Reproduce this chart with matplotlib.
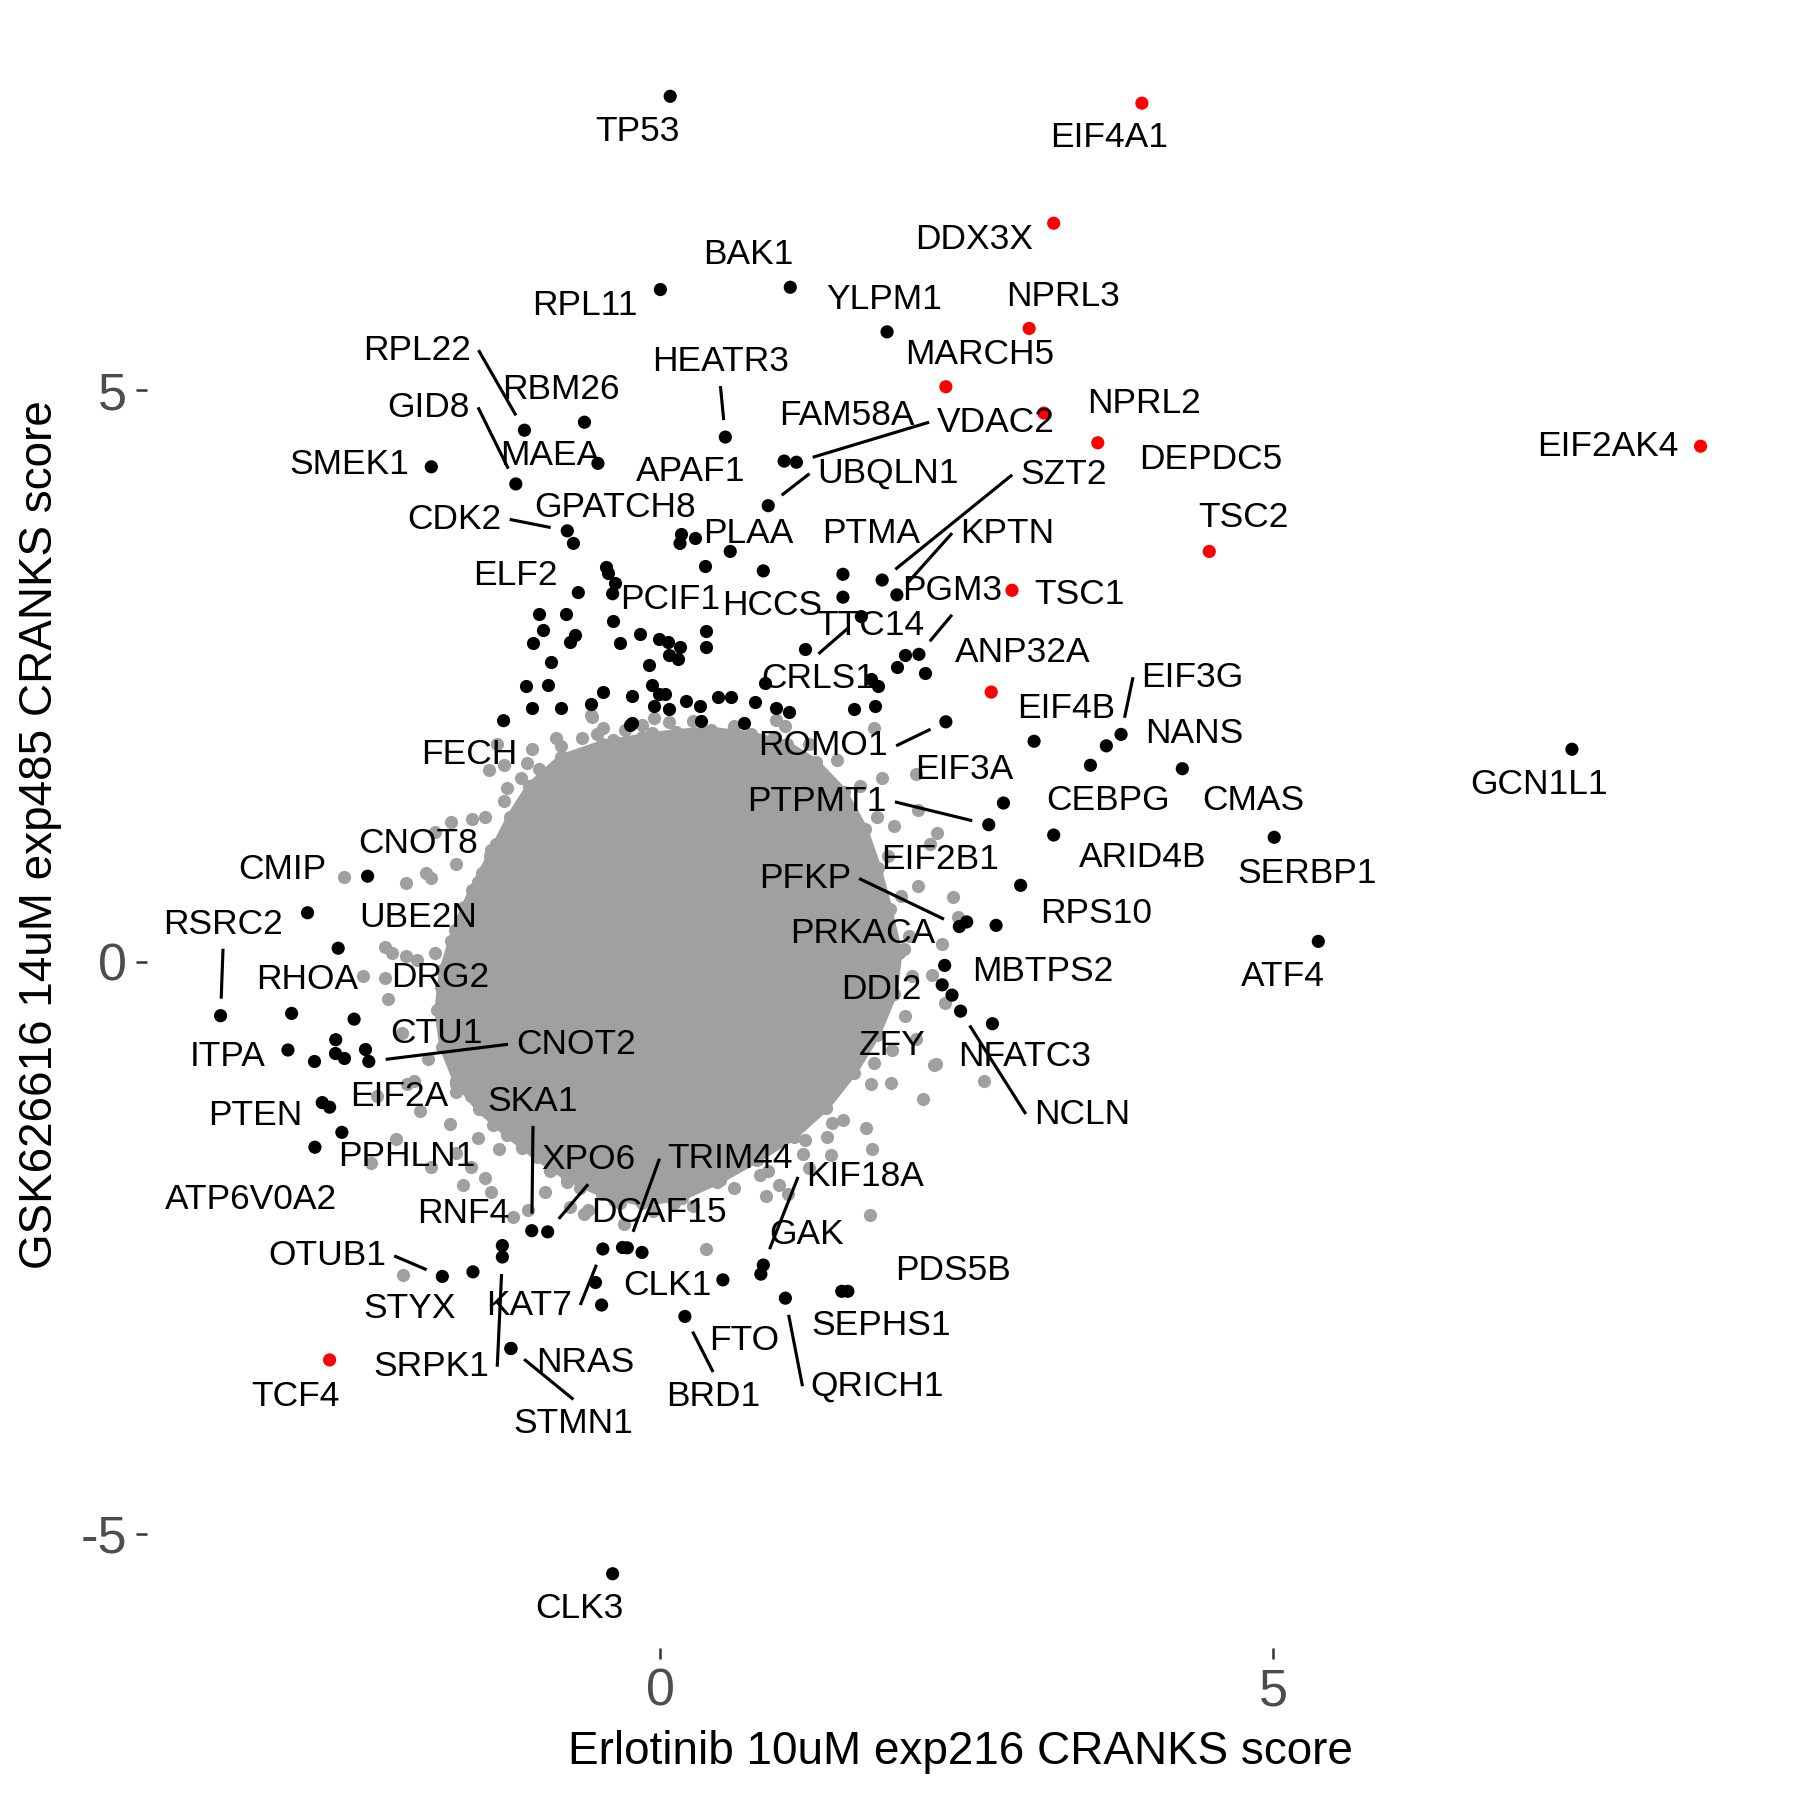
import numpy as np
import matplotlib
matplotlib.use("Agg")
import matplotlib.pyplot as plt

plt.rcParams['font.family'] = ['Liberation Sans', 'DejaVu Sans']
plt.rcParams['axes.unicode_minus'] = False

GRAY = "#A0A0A0"

# labelled genes: point position, red flag, label position, segment flag
genes = ["TP53", "EIF4A1", "BAK1", "DDX3X", "RPL11", "YLPM1", "NPRL3", "HEATR3", "MARCH5",
         "RPL22", "RBM26", "GID8", "SMEK1", "MAEA", "NPRL2", "DEPDC5", "EIF2AK4", "FAM58A",
         "VDAC2", "APAF1", "UBQLN1", "SZT2", "TSC2", "GPATCH8", "CDK2", "PLAA", "PTMA",
         "KPTN", "PGM3", "TSC1", "ELF2", "PCIF1", "HCCS", "TTC14", "CRLS1", "ANP32A",
         "EIF3G", "EIF4B", "NANS", "ROMO1", "FECH", "EIF3A", "CEBPG", "CMAS", "GCN1L1",
         "PTPMT1", "ARID4B", "SERBP1", "CNOT8", "CMIP", "EIF2B1", "PFKP", "RPS10", "PRKACA",
         "UBE2N", "RSRC2", "MBTPS2", "ATF4", "DDI2", "ZFY", "NCLN", "NFATC3", "RHOA", "DRG2",
         "ITPA", "CTU1", "CNOT2", "EIF2A", "PTEN", "SKA1", "PPHLN1", "ATP6V0A2", "XPO6",
         "TRIM44", "DCAF15", "KIF18A", "GAK", "RNF4", "SRPK1", "OTUB1", "STYX", "KAT7",
         "CLK1", "PDS5B", "SEPHS1", "QRICH1", "FTO", "BRD1", "NRAS", "STMN1", "TCF4", "CLK3"]
gene_x = [0.08, 3.93, 1.06, 3.21, 0.00, 1.85, 3.01, 0.53, 2.33,
          -1.11, -0.62, -1.18, -1.87, -0.51, 3.13, 3.57, 8.49, 1.01,
          1.11, 0.16, 0.88, 1.81, 4.48, -0.71, -0.76, 0.57, 1.49,
          1.93, 2.11, 2.87, -0.67, -0.39, 0.84, 1.49, 1.64, 2.70,
          3.76, 3.05, 3.64, 2.33, -1.28, 2.80, 3.51, 4.26, 7.44,
          2.68, 3.21, 5.01, -2.39, -2.88, 2.94, 2.44, 2.74, 2.50,
          -2.63, -3.59, 2.32, 5.37, 2.30, 2.38, 2.45, 2.71, -3.01, -2.50,
          -3.04, -2.65, -2.38, -2.70, -2.76, -1.05, -2.60, -2.82, -0.92,
          -0.27, -0.15, 0.84, 0.82, -1.29, -1.29, -1.78, -1.53, -0.47,
          0.51, 1.53, 1.48, 1.02, -0.48, 0.20, -1.22, -1.22, -2.70, -0.39]
gene_y = [7.57, 7.51, 5.90, 6.46, 5.88, 5.51, 5.54, 4.59, 5.03,
          4.65, 4.72, 4.18, 4.33, 4.36, 4.80, 4.54, 4.51, 4.38,
          4.37, 3.66, 3.99, 3.34, 3.59, 3.66, 3.77, 3.59, 3.39,
          3.21, 2.69, 3.25, 3.23, 3.22, 3.42, 3.19, 3.02, 2.36,
          1.99, 1.93, 1.89, 2.10, 2.11, 1.39, 1.72, 1.69, 1.86,
          1.20, 1.11, 1.09, 0.75, 0.43, 0.67, 0.31, 0.32, 0.35,
          0.12, -0.47, -0.03, 0.18, -0.20, -0.29, -0.43, -0.54, -0.45, -0.50,
          -0.77, -0.68, -0.87, -1.27, -1.23, -2.35, -1.49, -1.62, -2.36,
          -2.50, -2.54, -2.65, -2.73, -2.48, -2.58, -2.75, -2.71, -2.51,
          -2.78, -2.88, -2.88, -2.94, -3.00, -3.10, -3.38, -3.38, -3.48, -5.35]
gene_red = {"EIF4A1", "DDX3X", "NPRL3", "MARCH5", "NPRL2", "DEPDC5", "EIF2AK4",
            "TSC2", "TSC1", "ANP32A", "TCF4"}
label_x = [-0.19, 3.66, 0.72, 2.56, -0.62, 1.83, 3.29, 0.49, 2.61,
           -1.99, -0.81, -1.89, -2.54, -0.90, 3.95, 4.49, 7.73, 1.52,
           2.74, 0.25, 1.86, 3.29, 4.76, -0.37, -1.68, 0.72, 1.72,
           2.83, 2.38, 3.42, -1.18, 0.08, 0.91, 1.71, 1.29, 2.96,
           4.34, 3.31, 4.36, 1.33, -1.56, 2.48, 3.65, 4.84, 7.17,
           1.28, 3.94, 5.28, -1.98, -3.09, 2.28, 1.18, 3.56, 1.65,
           -1.98, -3.57, 3.12, 5.08, 1.80, 1.89, 3.44, 2.97, -2.88, -1.80,
           -3.53, -1.83, -0.69, -2.13, -3.31, -1.04, -2.07, -3.34, -0.59,
           0.57, -0.01, 1.67, 1.19, -1.61, -1.87, -2.72, -2.05, -1.07,
           0.06, 2.39, 1.80, 1.77, 0.68, 0.43, -0.61, -0.71, -2.98, -0.66]
label_y = [7.26, 7.21, 6.19, 6.32, 5.74, 5.79, 5.82, 5.25, 5.31,
           5.35, 5.01, 4.85, 4.35, 4.43, 4.88, 4.39, 4.51, 4.78,
           4.72, 4.29, 4.27, 4.26, 3.89, 3.97, 3.87, 3.75, 3.75,
           3.75, 3.25, 3.21, 3.38, 3.17, 3.12, 2.94, 2.48, 2.71,
           2.49, 2.22, 2.00, 1.89, 1.81, 1.68, 1.41, 1.41, 1.55,
           1.40, 0.91, 0.77, 1.04, 0.81, 0.90, 0.73, 0.42, 0.25,
           0.39, 0.33, -0.08, -0.13, -0.24, -0.73, -1.33, -0.83, -0.15, -0.14,
           -0.83, -0.63, -0.72, -1.18, -1.34, -1.22, -1.70, -2.08, -1.73,
           -1.72, -2.19, -1.88, -2.38, -2.20, -3.54, -2.57, -3.03, -3.00,
           -2.83, -2.70, -3.18, -3.71, -3.31, -3.80, -3.50, -4.04, -3.80, -5.65]
with_segment = {"HEATR3", "RPL22", "GID8", "VDAC2", "UBQLN1", "SZT2", "CDK2", "KPTN",
                "PGM3", "CRLS1", "EIF3G", "ROMO1", "PTPMT1", "PFKP", "RSRC2", "NCLN",
                "CNOT2", "SKA1", "XPO6", "TRIM44", "KIF18A", "SRPK1", "OTUB1", "KAT7",
                "QRICH1", "BRD1", "STMN1"}

# other hits (black, unlabelled)
hit_x = [-0.44, -0.43, 0.36, -0.37, -0.99, -0.77, -0.39, -0.96, -1.04, -0.70, -0.74, -0.33,
         -0.17, -0.01, 0.06, 0.16, 0.07, 0.14, 0.37, 0.37, -0.89, -0.09, -1.10, -0.92,
         -0.47, -0.07, -0.01, 0.04, -0.23, -0.57, -1.05, -0.81, -0.05, 0.07, 0.21, 0.32,
         0.33, 0.47, -0.23, -0.25, 1.18, 2.00, 1.93, 2.16, 0.85, 1.72, 1.78, 0.58, 0.77,
         0.94, 1.05, 1.58, 1.75, 0.68, 0.17, 0.28, -2.66, -2.58, -2.41, -2.83, -0.31, -0.53]
hit_y = [3.45, 3.40, 3.46, 3.31, 3.04, 3.04, 2.98, 2.90, 2.79, 2.86, 2.80, 2.79,
         2.87, 2.82, 2.80, 2.75, 2.68, 2.65, 2.89, 2.75, 2.62, 2.60, 2.41, 2.42,
         2.36, 2.42, 2.34, 2.34, 2.33, 2.26, 2.22, 2.22, 2.24, 2.21, 2.28, 2.24,
         2.11, 2.32, 2.09, 2.07, 2.74, 2.68, 2.58, 2.53, 2.44, 2.47, 2.41, 2.32, 2.27,
         2.22, 2.19, 2.21, 2.24, 2.09, 3.74, 3.71, -0.80, -0.84, -0.76, -0.87, -2.49, -2.80]

# background genes: outline of the dense core and the scattered ones around it
core_x = [-0.15, -0.48, -0.81, -1.07, -1.23, -1.39, -1.54, -1.68, -1.78, -1.82, -1.78, -1.67,
          -1.48, -1.25, -1.01, -0.76, -0.48, -0.15, 0.18, 0.49, 0.79, 1.09, 1.35, 1.58,
          1.77, 1.91, 1.95, 1.87, 1.78, 1.67, 1.50, 1.27, 1.03, 0.74, 0.41, 0.13]
core_y = [1.97, 1.91, 1.79, 1.54, 1.27, 0.93, 0.63, 0.28, -0.07, -0.42, -0.74, -1.04,
          -1.29, -1.51, -1.71, -1.89, -2.03, -2.11, -2.06, -1.91, -1.73, -1.53, -1.28, -0.97,
          -0.64, -0.28, 0.08, 0.46, 0.82, 1.16, 1.49, 1.75, 1.91, 1.99, 2.03, 2.01]
edge_x = [-1.13, -1.34, -1.46, -1.60, -1.71, -1.79, -1.76, -1.69, -1.55, -1.37, -1.13, -0.90,
          -0.66, -0.38, -0.06, 0.27, 0.60, 0.88, 1.16, 1.49, 1.72, 1.89, 2.00, 2.05,
          2.03, 1.96, 1.86, 1.77, 1.63, 1.44, 1.21, 0.93, 0.60, 0.27, -0.15, -0.52,
          -0.81, -0.99]
edge_y = [1.39, 1.03, 0.78, 0.48, 0.18, -0.22, -0.57, -0.87, -1.17, -1.43, -1.63, -1.83,
          -1.98, -2.08, -2.18, -2.13, -1.98, -1.83, -1.68, -1.38, -1.07, -0.77, -0.47, -0.12,
          0.23, 0.58, 0.93, 1.27, 1.54, 1.77, 1.91, 1.97, 2.06, 2.11, 2.07, 1.99,
          1.89, 1.69]
bg_x = [-2.58, -2.08, -1.91, -1.87, -1.67, -1.84, -1.71, -1.54, -1.43, -2.25, -2.19, -2.43,
        -2.25, -2.22, -2.08, -1.99, -1.84, -1.49, -1.38, -1.28, -1.25, -1.09, -1.05, -1.28,
        -0.85, -0.64, -0.56, -0.47, -1.40, -1.14, -1.78, -1.90, -1.67, -2.01, -2.11, -1.33,
        -0.39, -0.29, -0.05, 0.07, -0.07, 0.33, 0.10, -0.57, 0.94, 1.02, 0.59, -2.10,
        1.74, 2.09, 1.81, 2.10, 1.91, 2.26, 2.20, 2.10, 2.39, 2.43, 2.30, 1.99, 2.22,
        2.32, 1.79, 2.09, 2.25, 1.88, 2.14, 2.64, 1.74,
        0.37, 1.71, 1.68, 1.36, 1.73, 1.39, 2.23, 0.86, 0.97, 1.21,
        -2.31, -2.07, -1.96, -2.16, -1.87, -1.67, -1.55, -1.61, -1.43, -1.38, -1.20, -1.08,
        -0.94, -0.76, -0.59, -0.33, -1.49, -1.72, -1.32, -1.67, -2.36, -0.74, -0.62, -0.30,
        0.11, 0.46, 0.81, 1.04, 1.18, 1.40]
bg_y = [0.74, 0.69, 0.78, 0.73, 0.86, 1.14, 1.22, 1.25, 1.27, 0.13, 0.08, -0.12,
        -0.14, -0.32, 0.05, 0.02, 0.08, 0.70, 0.98, 1.41, 1.52, 1.74, 1.86, 1.72,
        1.96, 1.96, 2.14, 2.05, 1.68, 1.61, -0.29, -0.85, -1.07, -1.04, -0.62, 1.91,
        1.94, 2.03, 2.13, 2.10, 2.00, 2.00, 1.94, 2.16, 2.12, 2.06, 2.00, -2.74,
        2.05, 1.64, 1.61, 1.33, 1.19, 1.13, 1.03, 0.66, 0.57, 0.39, 0.16, 0.11, -0.11,
        -0.36, -0.48, -0.67, -0.89, -1.06, -1.20, -1.04, -0.88,
        -2.51, -2.21, -1.45, -1.53, -1.64, -1.69, -0.90, -2.05, -1.95, -1.80,
        -1.17, -1.07, -1.30, -1.55, -1.79, -1.67, -1.79, -1.95, -1.89, -2.01, -2.23, -2.17,
        -2.01, -1.92, -2.17, -2.11, -1.54, -1.42, -1.64, -1.14, -1.76, -2.14, -2.20, -2.29,
        -2.11, -1.92, -1.86, -2.03, -1.56, -1.41]

fig = plt.figure(figsize=(6, 6), dpi=300)
ax = fig.add_axes([0.0817, 0.0844, 0.9039, 0.9034])
ax.set_xlim(-4.19, 9.09)
ax.set_ylim(-6.0, 8.22)
ax.set_autoscale_on(False)

PT = 10
ax.fill(core_x, core_y, color=GRAY, ec=GRAY, lw=1.5, zorder=1)
ax.scatter(core_x, core_y, s=PT, color=GRAY, lw=0, zorder=1)
ax.scatter(edge_x, edge_y, s=PT, color=GRAY, lw=0, zorder=1)
ax.scatter(bg_x, bg_y, s=PT, color=GRAY, lw=0, zorder=1)
ax.scatter(hit_x, hit_y, s=PT, color="black", lw=0, zorder=3)
cols = ["red" if g in gene_red else "black" for g in genes]
ax.scatter(gene_x, gene_y, s=PT, c=cols, lw=0, zorder=3)

texts = []
for g, tx, ty in zip(genes, label_x, label_y):
    texts.append(ax.text(tx, ty, g, fontsize=8.5, ha="center", va="center",
                         color="black", zorder=4))

# ggrepel-like segments: point -> middle of the nearest label side
fig.canvas.draw()
renderer = fig.canvas.get_renderer()
inv = ax.transData.inverted()
PAD = 8
GAP = 17
for g, px, py, txt in zip(genes, gene_x, gene_y, texts):
    if g not in with_segment:
        continue
    bb = txt.get_window_extent(renderer)
    x0, y0, x1, y1 = bb.x0 - PAD, bb.y0 - PAD, bb.x1 + PAD, bb.y1 + PAD
    p = ax.transData.transform((px, py))
    cx, cy = (x0 + x1) / 2, (y0 + y1) / 2
    if p[0] < x0:
        end = np.array([x0, cy])
    elif p[0] > x1:
        end = np.array([x1, cy])
    elif p[1] < y0:
        end = np.array([cx, y0])
    else:
        end = np.array([cx, y1])
    d = end - p
    length = np.hypot(*d)
    if length <= GAP + 5:
        continue
    start = p + d / length * GAP
    seg = inv.transform([start, end])
    ax.plot(seg[:, 0], seg[:, 1], color="black", lw=0.75, zorder=2,
            solid_capstyle="butt")

for s in ax.spines.values():
    s.set_visible(False)
ax.set_xticks([0, 5])
ax.set_yticks([-5, 0, 5])
ax.tick_params(axis="both", colors="#333333", labelcolor="#4D4D4D", labelsize=12.5,
               length=2.75, width=0.6, pad=2)
ax.set_xlabel("Erlotinib 10uM exp216 CRANKS score", fontsize=11)
ax.set_ylabel("GSK626616 14uM exp485 CRANKS score", fontsize=11)
ax.xaxis.set_label_coords(0.5, -0.064)
ax.xaxis.label.set_va("center")
ax.yaxis.set_label_coords(-0.066, 0.5)
ax.yaxis.label.set_va("center")

fig.savefig("out.png", dpi=300, facecolor="white")
